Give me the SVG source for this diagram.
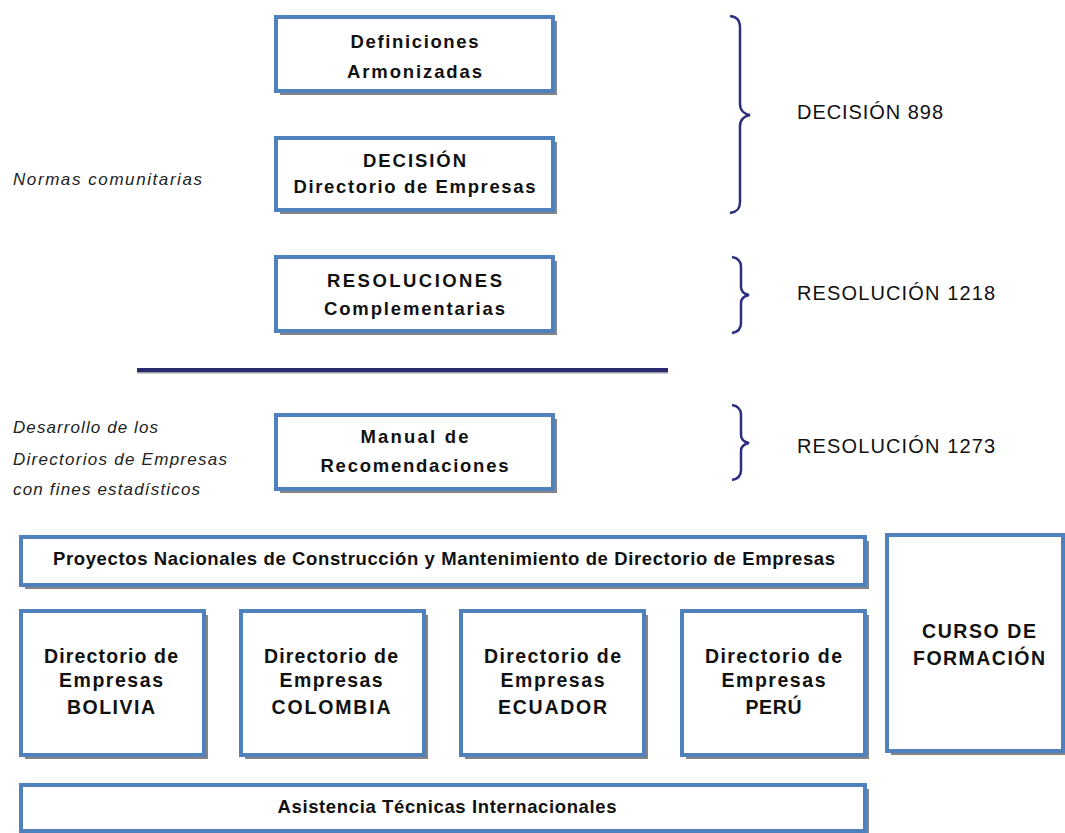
<svg xmlns="http://www.w3.org/2000/svg" width="1065" height="833" viewBox="0 0 1065 833">
<style>
.box{fill:#ffffff;stroke:#4f81bd;stroke-width:4}
.sh{fill:#858585}
.bt{font-family:"Liberation Sans",Arial,sans-serif;font-weight:bold;font-size:18.5px;fill:#111;text-anchor:middle}
.ct{font-family:"Liberation Sans",Arial,sans-serif;font-weight:bold;font-size:19.5px;fill:#111;text-anchor:middle}
.rt{font-family:"Liberation Sans",Arial,sans-serif;font-size:20px;fill:#111}
.it{font-family:"Liberation Sans",Arial,sans-serif;font-style:italic;font-size:17px;fill:#222}
.br{fill:none;stroke:#2e2e7e;stroke-width:2.5}
</style>
<rect width="1065" height="833" fill="#ffffff"/>

<g id="labels-left">
<text class="it" x="13" y="185" textLength="189" lengthAdjust="spacing">Normas comunitarias</text>
<text class="it" x="13" y="433" textLength="145" lengthAdjust="spacing">Desarrollo de los</text>
<text class="it" x="13" y="465" textLength="214" lengthAdjust="spacing">Directorios de Empresas</text>
<text class="it" x="13" y="495" textLength="187" lengthAdjust="spacing">con fines estadísticos</text>
</g>

<g id="node-definiciones">
<rect class="sh" x="280" y="21" width="277" height="74"/>
<rect class="box" x="276" y="17" width="277" height="74"/>
<text class="bt" x="414.5" y="48" textLength="128" lengthAdjust="spacing">Definiciones</text>
<text class="bt" x="414.5" y="78" textLength="135" lengthAdjust="spacing">Armonizadas</text>
</g>

<g id="node-decision">
<rect class="sh" x="280" y="142" width="277" height="72"/>
<rect class="box" x="276" y="138" width="277" height="72"/>
<text class="bt" x="414.5" y="167" textLength="103" lengthAdjust="spacing">DECISIÓN</text>
<text class="bt" x="414.5" y="193" textLength="242" lengthAdjust="spacing">Directorio de Empresas</text>
</g>

<g id="node-resoluciones">
<rect class="sh" x="280" y="261" width="277" height="74"/>
<rect class="box" x="276" y="257" width="277" height="74"/>
<text class="bt" x="414.5" y="287" textLength="175" lengthAdjust="spacing">RESOLUCIONES</text>
<text class="bt" x="414.5" y="315" textLength="181" lengthAdjust="spacing">Complementarias</text>
</g>

<g id="divider">
<line x1="137" y1="372.5" x2="668" y2="372.5" stroke="#9a9aa8" stroke-width="2"/>
<line x1="137" y1="370" x2="668" y2="370" stroke="#2a2a6e" stroke-width="4"/>
</g>

<g id="node-manual">
<rect class="sh" x="280" y="419" width="277" height="74"/>
<rect class="box" x="276" y="415" width="277" height="74"/>
<text class="bt" x="414.5" y="443" textLength="108" lengthAdjust="spacing">Manual de</text>
<text class="bt" x="414.5" y="472" textLength="188" lengthAdjust="spacing">Recomendaciones</text>
</g>

<g id="connectors">
<path class="br" d="M730,16 C737,17 740,20 740,28 L740,104 C740,110 744,114 750,115 C744,116 740,120 740,126 L740,202 C740,209 737,212 730,213"/>
<path class="br" d="M732,257 C738,258 741,261 741,267 L741,287 C741,292 744,294 749,295 C744,296 741,298 741,303 L741,323 C741,329 738,332 732,333"/>
<path class="br" d="M732,405 C738,406 741,409 741,415 L741,435 C741,440 744,442 749,443 C744,444 741,446 741,451 L741,470 C741,476 738,479 732,480"/>
</g>

<g id="labels-right">
<text class="rt" x="797" y="119" textLength="146" lengthAdjust="spacing">DECISIÓN 898</text>
<text class="rt" x="797" y="300" textLength="198" lengthAdjust="spacing">RESOLUCIÓN 1218</text>
<text class="rt" x="797" y="453" textLength="198" lengthAdjust="spacing">RESOLUCIÓN 1273</text>
</g>

<g id="node-proyectos">
<rect class="sh" x="25" y="541" width="844" height="48"/>
<rect class="box" x="21" y="537" width="844" height="48"/>
<text class="bt" x="444" y="565" textLength="782" lengthAdjust="spacing">Proyectos Nacionales de Construcción y Mantenimiento de Directorio de Empresas</text>
</g>

<g id="node-bolivia">
<rect class="sh" x="25" y="615" width="183" height="144"/>
<rect class="box" x="21" y="611" width="183" height="144"/>
<text class="ct" x="111" y="663" textLength="134" lengthAdjust="spacing">Directorio de</text>
<text class="ct" x="111" y="687" textLength="104" lengthAdjust="spacing">Empresas</text>
<text class="ct" x="111" y="714" textLength="88" lengthAdjust="spacing">BOLIVIA</text>
</g>

<g id="node-colombia">
<rect class="sh" x="245" y="615" width="183" height="144"/>
<rect class="box" x="241" y="611" width="183" height="144"/>
<text class="ct" x="331" y="663" textLength="134" lengthAdjust="spacing">Directorio de</text>
<text class="ct" x="331" y="687" textLength="103" lengthAdjust="spacing">Empresas</text>
<text class="ct" x="331" y="714" textLength="119" lengthAdjust="spacing">COLOMBIA</text>
</g>

<g id="node-ecuador">
<rect class="sh" x="465" y="615" width="183" height="144"/>
<rect class="box" x="461" y="611" width="183" height="144"/>
<text class="ct" x="552.5" y="663" textLength="137" lengthAdjust="spacing">Directorio de</text>
<text class="ct" x="552.5" y="687" textLength="104" lengthAdjust="spacing">Empresas</text>
<text class="ct" x="552.5" y="714" textLength="109" lengthAdjust="spacing">ECUADOR</text>
</g>

<g id="node-peru">
<rect class="sh" x="686" y="615" width="183" height="144"/>
<rect class="box" x="682" y="611" width="183" height="144"/>
<text class="ct" x="773.5" y="663" textLength="137" lengthAdjust="spacing">Directorio de</text>
<text class="ct" x="773.5" y="687" textLength="104" lengthAdjust="spacing">Empresas</text>
<text class="ct" x="773.5" y="714" textLength="56" lengthAdjust="spacing">PERÚ</text>
</g>

<g id="node-curso">
<rect class="sh" x="891" y="539" width="176" height="216"/>
<rect class="box" x="887" y="535" width="176" height="216"/>
<text class="ct" x="979" y="638" font-size="20" textLength="114" lengthAdjust="spacing">CURSO DE</text>
<text class="ct" x="979" y="665" font-size="20" textLength="132" lengthAdjust="spacing">FORMACIÓN</text>
</g>

<g id="node-asistencia">
<rect class="sh" x="25" y="789" width="844" height="46"/>
<rect class="box" x="21" y="785" width="844" height="46"/>
<text class="bt" x="447" y="813" textLength="339" lengthAdjust="spacing">Asistencia Técnicas Internacionales</text>
</g>
</svg>
